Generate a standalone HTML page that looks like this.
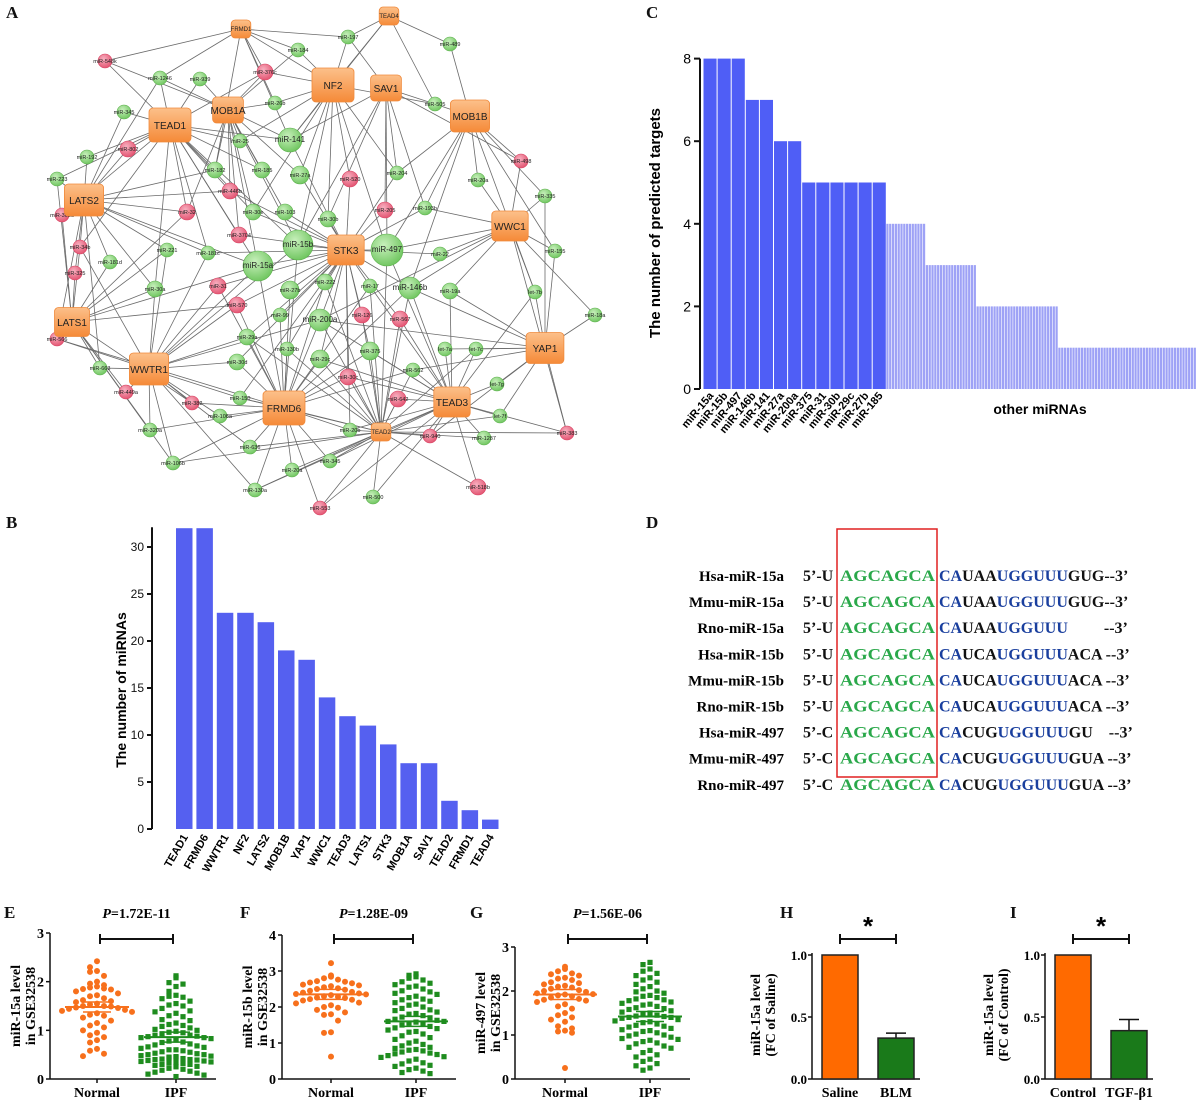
<!DOCTYPE html>
<html><head><meta charset="utf-8"><style>
body{margin:0;background:#fff;}
svg{display:block;}
.pl{font-family:"Liberation Serif",serif;font-weight:bold;font-size:17px;fill:#111;}
.ss{font-family:"Liberation Sans",sans-serif;}
.sf{font-family:"Liberation Serif",serif;font-weight:bold;}
</style></head><body>
<svg id="fig" width="1200" height="1101" viewBox="0 0 1200 1101" xmlns="http://www.w3.org/2000/svg">
<g id="panA"><text class="pl" x="6" y="18">A</text><g id="edges"></g><g id="nodes"></g></g>
<g id="panB"><text class="pl" x="6" y="528">B</text></g>
<g id="panC"><text class="pl" x="646" y="18">C</text></g>
<g id="panD"><text class="pl" x="646" y="528">D</text>
<rect x="837" y="529" width="100" height="248" fill="none" stroke="#e02020" stroke-width="1.5"/></g>
<g id="panBottom"></g>
</svg>
<script>
const NS="http://www.w3.org/2000/svg";
function el(p,t,a){const e=document.createElementNS(NS,t);for(const k in a)e.setAttribute(k,a[k]);p.appendChild(e);return e;}
function tx(p,x,y,s,a){const e=el(p,'text',Object.assign({x:x,y:y},a||{}));e.textContent=s;return e;}

// ---------- Panel A network ----------
const hubNames=["FRMD1","TEAD4","NF2","SAV1","MOB1A","TEAD1","MOB1B","LATS2","WWC1","STK3","LATS1","YAP1","WWTR1","TEAD3","FRMD6","TEAD2"];
const hubPos=[[241,29],[389,16],[333,85],[386,88],[228,110],[170,125],[470,116],[84,200],[510,226],[346,250],[72,322],[545,348],[149,369],[452,402],[284,408],[381,432]];
const hubSize=[14,14,30,22,22,30,28,28,26,26,25,27,28,26,30,14];
const mir=[["miR-197",348,37,7,"g"],["miR-489",450,44,7,"g"],["miR-184",298,50,7,"g"],["miR-1246",160,78,7,"g"],["miR-939",200,79,7,"g"],["miR-26b",275,103,7,"g"],["miR-505",435,104,7,"g"],["miR-345",124,112,7,"g"],["miR-25",240,141,7,"g"],["miR-141",290,140,12,"g"],["miR-192",87,157,7,"g"],["miR-223",57,179,7,"g"],["miR-182",215,170,8,"g"],["miR-185",262,170,8,"g"],["miR-27a",300,175,9,"g"],["miR-204",397,173,7,"g"],["miR-20a",478,180,7,"g"],["miR-335",545,196,7,"g"],["miR-30e",253,212,8,"g"],["miR-103",285,212,8,"g"],["miR-30b",328,219,8,"g"],["miR-193b",425,208,7,"g"],["miR-181d",110,262,7,"g"],["miR-221",167,250,7,"g"],["miR-181c",208,253,7,"g"],["miR-15a",258,266,15,"g"],["miR-15b",298,245,15,"g"],["miR-497",387,250,16,"g"],["miR-22",440,254,7,"g"],["miR-155",555,251,7,"g"],["miR-30a",155,289,8,"g"],["miR-27b",290,290,9,"g"],["miR-222",325,282,8,"g"],["miR-17",370,286,7,"g"],["miR-146b",410,288,11,"g"],["miR-19a",450,291,8,"g"],["let-7b",535,292,7,"g"],["miR-18a",595,315,7,"g"],["miR-663",100,368,7,"g"],["miR-29c",320,359,9,"g"],["miR-200a",320,320,11,"g"],["miR-30d",237,362,8,"g"],["miR-29a",247,337,8,"g"],["miR-99",280,315,7,"g"],["miR-130b",287,349,7,"g"],["miR-375",370,351,9,"g"],["let-7a",445,349,7,"g"],["let-7c",476,349,7,"g"],["miR-562",413,370,7,"g"],["let-7g",497,384,7,"g"],["let-7f",500,416,7,"g"],["miR-150",240,398,7,"g"],["miR-106a",220,416,7,"g"],["miR-320a",150,430,7,"g"],["miR-20b",350,430,7,"g"],["miR-1287",484,438,7,"g"],["miR-636",250,447,7,"g"],["miR-106b",173,463,7,"g"],["miR-20a",292,470,7,"g"],["miR-345",330,461,7,"g"],["miR-130a",255,490,7,"g"],["miR-500",373,497,7,"g"],
["miR-548k",105,61,7,"r"],["miR-376c",265,72,8,"r"],["miR-802",128,149,8,"r"],["miR-498",521,161,7,"r"],["miR-446b",230,191,8,"r"],["miR-520",350,179,8,"r"],["miR-302d",62,215,7,"r"],["miR-32",187,212,8,"r"],["miR-205",385,210,8,"r"],["miR-3704",239,235,8,"r"],["miR-34b",80,247,7,"r"],["miR-325",75,273,7,"r"],["miR-31",218,286,8,"r"],["miR-570",237,305,8,"r"],["miR-126",362,315,8,"r"],["miR-567",400,319,8,"r"],["miR-566",57,339,7,"r"],["miR-449a",126,392,7,"r"],["miR-382",192,403,7,"r"],["miR-30c",348,377,8,"r"],["miR-642",398,399,8,"r"],["miR-940",430,436,7,"r"],["miR-383",567,433,7,"r"],["miR-518b",478,487,8,"r"],["miR-553",320,508,7,"r"]];
const gE=document.getElementById('edges'),gN=document.getElementById('nodes');
mir.forEach(function(m,i){
  const d=hubPos.map(function(h,j){return [Math.hypot(h[0]-m[1],h[1]-m[2]),j];}).sort(function(a,b){return a[0]-b[0];});
  const k=m[3]>=11?7:(i%3===0?4:(i%3===1?2:3));
  for(let q=0;q<k;q++){const h=hubPos[d[q][1]];const e=el(gE,'line',{x1:m[1],y1:m[2],x2:h[0],y2:h[1],stroke:'#6a6a6a','stroke-width':0.8});
    
    }
});
[[0,2],[1,2],[13,15],[14,15]].forEach(function(p){const a=hubPos[p[0]],b=hubPos[p[1]];el(gE,'line',{x1:a[0],y1:a[1],x2:b[0],y2:b[1],stroke:'#6a6a6a','stroke-width':0.8});});
const defs=el(document.getElementById('fig'),'defs',{});
const gg=el(defs,'radialGradient',{id:'gG',cx:'0.4',cy:'0.35',r:'0.7'});el(gg,'stop',{offset:'0','stop-color':'#c8f0bc'});el(gg,'stop',{offset:'1','stop-color':'#6cc45c'});
const gr=el(defs,'radialGradient',{id:'gR',cx:'0.4',cy:'0.35',r:'0.7'});el(gr,'stop',{offset:'0','stop-color':'#f8b0c0'});el(gr,'stop',{offset:'1','stop-color':'#e2506e'});
const go=el(defs,'linearGradient',{id:'gO',x1:'0',y1:'0',x2:'0',y2:'1'});el(go,'stop',{offset:'0','stop-color':'#fcc08a'});el(go,'stop',{offset:'1','stop-color':'#f58a38'});
mir.forEach(function(m){
  const c=el(gN,'circle',{cx:m[1],cy:m[2],r:m[3],fill:m[4]==='g'?'url(#gG)':'url(#gR)',stroke:m[4]==='g'?'#5cb04c':'#d84060','stroke-width':0.6});
  
  
  const t=tx(gN,m[1],m[2]+2,m[0],{'text-anchor':'middle','font-size':m[3]>=11?8:5.5,fill:'#222',class:'ss'});
  
  
});
hubNames.forEach(function(n,i){
  const s=hubSize[i],x=hubPos[i][0],y=hubPos[i][1];
  const r=el(gN,'rect',{x:x-s*1.4/2,y:y-s/2-2,width:s*1.4,height:s+4,rx:4,fill:'url(#gO)',stroke:'#f08a3c','stroke-width':0.8});
  
  
  const t=tx(gN,x,y+(s>20?4:2),n,{'text-anchor':'middle','font-size':s>20?10:6,fill:'#222',class:'ss'});
  
  
});

// ---------- Panel B ----------
const bCats=["TEAD1","FRMD6","WWTR1","NF2","LATS2","MOB1B","YAP1","WWC1","TEAD3","LATS1","STK3","MOB1A","SAV1","TEAD2","FRMD1","TEAD4"];
const bVals=[32,32,23,23,22,19,18,14,12,11,9,7,7,3,2,1];
const bTicks=[0,5,10,15,20,25,30];
(function(){
  const g=document.getElementById('panB');
  const y0=829,k=9.4,ax=152,x0=176,step=20.4,w=16.5;
  const Y=function(v){return y0-v*k;};
  el(g,'line',{x1:ax,y1:Y(0),x2:ax,y2:Y(32)-1,stroke:'#111','stroke-width':2});
  bTicks.forEach(function(t){el(g,'line',{x1:ax-5,y1:Y(t),x2:ax,y2:Y(t),stroke:'#111','stroke-width':2});
    tx(g,ax-8,Y(t)+4,t,{'text-anchor':'end','font-size':12,class:'ss',fill:'#111'});});
  const yl=tx(g,0,0,'The number of miRNAs',{transform:'translate(126,690) rotate(-90)','text-anchor':'middle','font-size':14,'font-weight':'bold',class:'ss'});
  
  bVals.forEach(function(v,i){const x=x0+i*step;
    const b=el(g,'rect',{x:x,y:Y(v),width:w,height:v*k,fill:'#5560f0'});
    
    
    tx(g,0,0,bCats[i],{transform:'translate('+(x+w/2+4)+',837) rotate(-60)','text-anchor':'end','font-size':11,'font-weight':'bold',class:'ss'});});
})();

// ---------- Panel C ----------
const cCats=["miR-15a","miR-15b","miR-497","miR-146b","miR-141","miR-27a","miR-200a","miR-375","miR-31","miR-30b","miR-29c","miR-27b","miR-185"];
const cVals=[8,8,8,7,7,6,6,5,5,5,5,5,5];
const otherLevels=[4,3,2,1];
const otherCounts=[14,18,29,49];
const cTicks=[0,2,4,6,8];
(function(){
  const g=document.getElementById('panC');
  const y0=389,k=41.3,ax=700,x0=703,w=14.1,ow=2.82;
  const Y=function(v){return y0-v*k;};
  el(g,'line',{x1:ax,y1:Y(0),x2:ax,y2:Y(8),stroke:'#111','stroke-width':2});
  cTicks.forEach(function(t){el(g,'line',{x1:ax-6,y1:Y(t),x2:ax,y2:Y(t),stroke:'#111','stroke-width':2});
    tx(g,ax-9,Y(t)+5,t,{'text-anchor':'end','font-size':14,class:'ss'});});
  const yl=tx(g,0,0,'The number of predicted targets',{transform:'translate(660,223) rotate(-90)','text-anchor':'middle','font-size':15,'font-weight':'bold',class:'ss'});
  
  cVals.forEach(function(v,i){const x=x0+i*w;
    const b=el(g,'rect',{x:x+0.5,y:Y(v),width:w-1,height:v*k,fill:'#4f5ef6'});
    
    
    tx(g,0,0,cCats[i],{transform:'translate('+(x+w/2+4)+',396) rotate(-50)','text-anchor':'end','font-size':11,'font-weight':'bold',class:'ss'});});
  let x=x0+cVals.length*w;
  otherLevels.forEach(function(v,i){
    for(let j=0;j<otherCounts[i];j++){
      const b=el(g,'rect',{x:x,y:Y(v),width:ow-0.6,height:v*k,fill:'#9ea2f6'});
      
      
      x+=ow;}
  });
  tx(g,1040,414,'other miRNAs',{'text-anchor':'middle','font-size':14,'font-weight':'bold',class:'ss'});
})();

// ---------- Panel D ----------
const dNames=["Hsa-miR-15a","Mmu-miR-15a","Rno-miR-15a","Hsa-miR-15b","Mmu-miR-15b","Rno-miR-15b","Hsa-miR-497","Mmu-miR-497","Rno-miR-497"];
const dSeqs=[["5\u2019-U","CA","UAA","UGGUUU","GUG--3\u2019"],["5\u2019-U","CA","UAA","UGGUUU","GUG--3\u2019"],["5\u2019-U","CA","UAA","UGGUUU","\u00a0\u00a0\u00a0\u00a0\u00a0\u00a0\u00a0\u00a0\u00a0--3\u2019"],["5\u2019-U","CA","UCA","UGGUUU","ACA --3\u2019"],["5\u2019-U","CA","UCA","UGGUUU","ACA --3\u2019"],["5\u2019-U","CA","UCA","UGGUUU","ACA --3\u2019"],["5\u2019-C","CA","CUG","UGGUUU","GU\u00a0\u00a0\u00a0\u00a0--3\u2019"],["5\u2019-C","CA","CUG","UGGUUU","GUA --3\u2019"],["5\u2019-C","CA","CUG","UGGUUU","GUA --3\u2019"]];
(function(){
  const g=document.getElementById('panD');
  dNames.forEach(function(n,i){const y=581+i*26.1;
    tx(g,784,y,n,{'text-anchor':'end','font-size':15,class:'sf'});
    tx(g,803,y,dSeqs[i][0],{'font-size':16,class:'sf',fill:'#111'});
    tx(g,840,y,'AGCAGCA',{'font-size':16,class:'sf',fill:'#2aa84a',textLength:95,lengthAdjust:'spacingAndGlyphs'});
    const t=el(g,'text',{x:939,y:y,'font-size':16,class:'sf','xml:space':'preserve'});
    
    
    const parts=[[dSeqs[i][1],'#1a3f9e'],[dSeqs[i][2],'#111'],[dSeqs[i][3],'#1a3f9e'],[dSeqs[i][4],'#111']];
    parts.forEach(function(p){const s=el(t,'tspan',{fill:p[1]});s.textContent=p[0];});
  });
})();

// ---------- Bottom scatter panels ----------
const eNormal=[2.42,2.3,2.22,2.2,2.12,2.0,1.96,1.93,1.9,1.88,1.86,1.85,1.84,1.8,1.76,1.72,1.7,1.66,1.62,1.6,1.58,1.55,1.53,1.5,1.5,1.49,1.47,1.46,1.44,1.42,1.4,1.38,1.35,1.32,1.3,1.26,1.2,1.15,1.1,1.06,1.0,0.95,0.9,0.86,0.8,0.75,0.62,0.58,0.52,0.47];
const eIPF=[2.12,2.08,1.98,1.95,1.9,1.8,1.72,1.7,1.68,1.65,1.6,1.55,1.52,1.5,1.45,1.4,1.38,1.35,1.3,1.28,1.22,1.2,1.15,1.12,1.1,1.08,1.05,1.02,1.0,0.98,0.96,0.95,0.93,0.9,0.9,0.88,0.87,0.85,0.85,0.83,0.82,0.8,0.78,0.76,0.75,0.72,0.7,0.68,0.66,0.65,0.63,0.6,0.6,0.58,0.56,0.55,0.53,0.52,0.5,0.5,0.48,0.47,0.46,0.45,0.44,0.43,0.42,0.41,0.4,0.4,0.39,0.38,0.37,0.36,0.35,0.34,0.33,0.32,0.3,0.3,0.28,0.26,0.25,0.22,0.2,0.18,0.16,0.14,0.12,0.1,0.08,0.05];
const fNormal=[3.22,2.88,2.84,2.8,2.76,2.72,2.7,2.68,2.66,2.62,2.6,2.58,2.55,2.52,2.5,2.48,2.45,2.42,2.4,2.38,2.36,2.35,2.33,2.3,2.28,2.26,2.25,2.22,2.2,2.18,2.12,2.1,2.05,2.0,1.98,1.92,1.85,1.8,1.78,1.62,1.3,1.28,0.62];
const fIPF=[2.92,2.88,2.84,2.8,2.75,2.7,2.66,2.62,2.58,2.55,2.5,2.45,2.42,2.38,2.35,2.3,2.26,2.22,2.2,2.16,2.12,2.08,2.05,2.0,1.96,1.92,1.9,1.86,1.82,1.8,1.76,1.72,1.7,1.66,1.63,1.6,1.6,1.58,1.55,1.52,1.5,1.46,1.42,1.4,1.36,1.32,1.3,1.25,1.2,1.15,1.1,1.05,1.0,0.96,0.92,0.88,0.85,0.82,0.8,0.78,0.75,0.72,0.7,0.68,0.65,0.62,0.6,0.55,0.5,0.45,0.42,0.38,0.35,0.3,0.26,0.22,0.18,0.15];
const gNormal=[2.55,2.5,2.45,2.4,2.38,2.35,2.3,2.28,2.25,2.2,2.18,2.15,2.12,2.1,2.08,2.05,2.02,2.0,1.98,1.95,1.93,1.92,1.9,1.88,1.85,1.82,1.8,1.78,1.75,1.7,1.65,1.6,1.5,1.45,1.4,1.35,1.3,1.2,1.15,1.1,1.08,1.05,0.25];
const gIPF=[2.65,2.6,2.5,2.45,2.4,2.35,2.3,2.25,2.2,2.15,2.1,2.05,2.0,1.98,1.95,1.9,1.88,1.85,1.82,1.8,1.78,1.75,1.72,1.7,1.68,1.65,1.62,1.6,1.58,1.55,1.52,1.5,1.48,1.45,1.43,1.42,1.4,1.4,1.38,1.35,1.32,1.3,1.28,1.25,1.22,1.2,1.18,1.15,1.12,1.1,1.08,1.05,1.02,1.0,0.98,0.95,0.92,0.9,0.88,0.85,0.82,0.8,0.75,0.72,0.7,0.65,0.6,0.55,0.5,0.45,0.4,0.35,0.3,0.25,0.2];
const medians=[[1.48,0.86],[2.35,1.6],[1.92,1.42]];
const hVals=[1.0,0.33],hErr=[0,0.04];
const iVals=[1.0,0.39],iErr=[0,0.09];
(function(){
  const g=document.getElementById('panBottom');
  function scatter(lbl,lx,ax,yTop,yMaxV,ticks,data,cx,pTxt,ylab){
    tx(g,lx,918,lbl,{class:'pl','font-size':18});
    const y0=1079,k=(y0-yTop)/yMaxV,Y=function(v){return y0-v*k;};
    el(g,'line',{x1:ax,y1:y0,x2:ax,y2:yTop,stroke:'#111','stroke-width':1.5});
    el(g,'line',{x1:ax,y1:y0,x2:cx[1]+40,y2:y0,stroke:'#111','stroke-width':1.5});
    ticks.forEach(function(t){el(g,'line',{x1:ax-4,y1:Y(t),x2:ax,y2:Y(t),stroke:'#111','stroke-width':1.5});
      tx(g,ax-6,Y(t)+5,t,{'text-anchor':'end','font-size':14,class:'sf'});});
    cx.forEach(function(c){el(g,'line',{x1:c,y1:y0,x2:c,y2:y0+4,stroke:'#111','stroke-width':1.5});});
    tx(g,cx[0],1097,'Normal',{'text-anchor':'middle','font-size':14,class:'sf'});
    tx(g,cx[1],1097,'IPF',{'text-anchor':'middle','font-size':14,class:'sf'});
    tx(g,0,0,ylab[0],{transform:'translate('+(ax-30)+','+(y0+yTop)/2+') rotate(-90)','text-anchor':'middle','font-size':14,class:'sf'});
    tx(g,0,0,ylab[1],{transform:'translate('+(ax-15)+','+(y0+yTop)/2+') rotate(-90)','text-anchor':'middle','font-size':14,class:'sf'});
    const p=tx(g,(cx[0]+cx[1])/2,918,'',{'text-anchor':'middle','font-size':14,class:'sf'});
    const s1=el(p,'tspan',{'font-style':'italic'});s1.textContent='P';const s2=el(p,'tspan',{});s2.textContent='='+pTxt;
    el(g,'line',{x1:cx[0]+3,y1:939,x2:cx[1]-3,y2:939,stroke:'#111','stroke-width':2});
    el(g,'line',{x1:cx[0]+3,y1:934,x2:cx[0]+3,y2:944,stroke:'#111','stroke-width':2});
    el(g,'line',{x1:cx[1]-3,y1:934,x2:cx[1]-3,y2:944,stroke:'#111','stroke-width':2});
    data.forEach(function(vals,gi){
      const bins={};const col=gi===0?'#f7701c':'#1e8c1e';
      vals.forEach(function(v){const py=Y(v);const b=Math.round(py/9);bins[b]=(bins[b]||0)+1;const n=(bins[b]-1)%11;
        const off=(n%2===0?1:-1)*Math.ceil(n/2)*7;
        let m;
        if(gi===0)m=el(g,'circle',{cx:cx[gi]+off,cy:py,r:3,fill:col});
        else m=el(g,'rect',{x:cx[gi]+off-2.6,y:py-2.6,width:5.2,height:5.2,fill:col});
        
        });
    });
    return Y;
  }
  const Ys=[
    scatter('E',4,50,933,3,[0,1,2,3],[eNormal,eIPF],[97,176],'1.72E-11',['miR-15a level','in GSE32538']),
    scatter('F',240,282,935,4,[0,1,2,3,4],[fNormal,fIPF],[331,416],'1.28E-09',['miR-15b level','in GSE32538']),
    scatter('G',470,515,947,3,[0,1,2,3],[gNormal,gIPF],[565,650],'1.56E-06',['miR-497 level','in GSE32538'])];
  const cxs=[[97,176],[331,416],[565,650]];
  medians.forEach(function(m,i){[0,1].forEach(function(j){const y=Ys[i](m[j]);const c=cxs[i][j];const col=j===0?'#f7701c':'#1e8c1e';
    el(g,'line',{x1:c-32,y1:y,x2:c+32,y2:y,stroke:col,'stroke-width':2});
    el(g,'line',{x1:c-14,y1:y-5,x2:c+14,y2:y-5,stroke:col,'stroke-width':1.5});
    el(g,'line',{x1:c-14,y1:y+5,x2:c+14,y2:y+5,stroke:col,'stroke-width':1.5});});});
  function bars(lbl,lx,ax,vals,errs,cats,ylab2){
    tx(g,lx,918,lbl,{class:'pl','font-size':18});
    const y0=1079,k=124,Y=function(v){return y0-v*k;};
    el(g,'line',{x1:ax,y1:y0,x2:ax,y2:Y(1)-2,stroke:'#111','stroke-width':1.5});
    el(g,'line',{x1:ax,y1:y0,x2:ax+108,y2:y0,stroke:'#111','stroke-width':1.5});
    [0,0.5,1].forEach(function(t){el(g,'line',{x1:ax-4,y1:Y(t),x2:ax,y2:Y(t),stroke:'#111','stroke-width':1.5});
      tx(g,ax-5,Y(t)+5,t.toFixed(1),{'text-anchor':'end','font-size':13,class:'sf'});});
    tx(g,0,0,'miR-15a level',{transform:'translate('+(ax-52)+',1015) rotate(-90)','text-anchor':'middle','font-size':14,class:'sf'});
    tx(g,0,0,ylab2,{transform:'translate('+(ax-37)+',1015) rotate(-90)','text-anchor':'middle','font-size':14,class:'sf'});
    vals.forEach(function(v,i){const x=ax+10+i*56;
      if(errs[i]>0){el(g,'line',{x1:x+18,y1:Y(v+errs[i]),x2:x+18,y2:Y(v),stroke:'#111','stroke-width':1.5});
        el(g,'line',{x1:x+8,y1:Y(v+errs[i]),x2:x+28,y2:Y(v+errs[i]),stroke:'#111','stroke-width':1.5});}
      const b=el(g,'rect',{x:x,y:Y(v),width:36,height:v*k,fill:i===0?'#ff6a00':'#1a7a1a',stroke:'#222','stroke-width':1.5});
      
      
      tx(g,x+18,1097,cats[i],{'text-anchor':'middle','font-size':14,class:'sf'});});
    el(g,'line',{x1:ax+28,y1:939,x2:ax+84,y2:939,stroke:'#111','stroke-width':2});
    el(g,'line',{x1:ax+28,y1:934,x2:ax+28,y2:944,stroke:'#111','stroke-width':2});
    el(g,'line',{x1:ax+84,y1:934,x2:ax+84,y2:944,stroke:'#111','stroke-width':2});
    tx(g,ax+56,935,'*',{'text-anchor':'middle','font-size':26,class:'ss','font-weight':'bold'});
  }
  bars('H',780,812,hVals,hErr,['Saline','BLM'],'(FC of Saline)');
  bars('I',1010,1045,iVals,iErr,['Control','TGF-\u03b21'],'(FC of Control)');
})();
</script>
</body></html>
